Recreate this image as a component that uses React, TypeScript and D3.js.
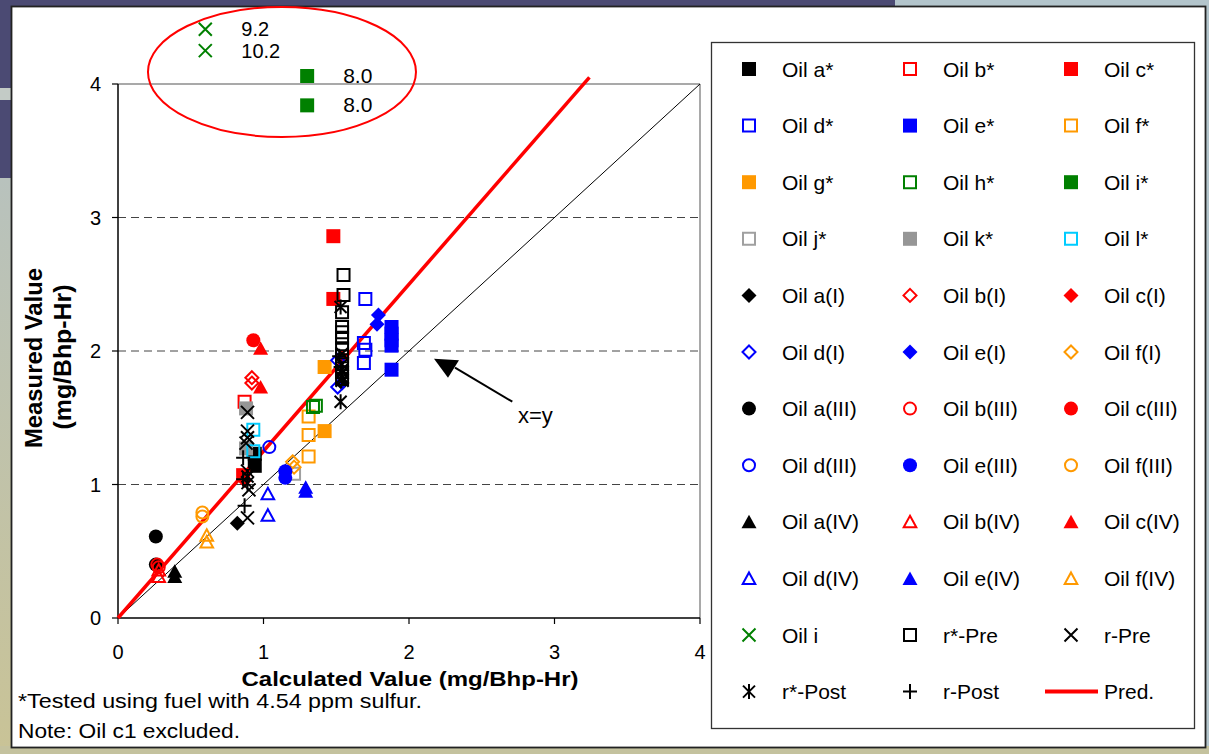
import React from 'react';
import * as d3 from 'd3';

type Pt = [number, number];

// ---------- data ----------
const X_TICKS = [0, 1, 2, 3, 4];
const Y_TICKS = [0, 1, 2, 3, 4];
const GRID_Y = [1, 2, 3];

const OIL_A_STAR: Pt[] = [[0.94, 1.23], [0.94, 1.14]];
const OIL_B_STAR: Pt[] = [[0.87, 1.62]];
const OIL_C_STAR: Pt[] = [[1.48, 2.86], [1.48, 2.39], [0.86, 1.07]];
const OIL_D_STAR: Pt[] = [[1.70, 2.39], [1.69, 2.06], [1.70, 2.01], [1.69, 1.91]];
const OIL_E_STAR: Pt[] = [[1.88, 2.18], [1.88, 2.13], [1.88, 2.08], [1.88, 2.04], [1.88, 1.86]];
const OIL_F_STAR: Pt[] = [[1.31, 1.21], [1.31, 1.37], [1.31, 1.51]];
const OIL_G_STAR: Pt[] = [[1.42, 1.40], [1.42, 1.88]];
const OIL_H_STAR: Pt[] = [[1.34, 1.58], [1.36, 1.59]];
const OIL_I_STAR: Pt[] = [];
const OIL_J_STAR: Pt[] = [[1.21, 1.08]];
const OIL_K_STAR: Pt[] = [[0.88, 1.57], [0.88, 1.27]];
const OIL_L_STAR: Pt[] = [[0.93, 1.41], [0.93, 1.25]];
const OIL_A_I: Pt[] = [[0.82, 0.71], [1.54, 1.76]];
const OIL_B_I: Pt[] = [[0.92, 1.80], [0.92, 1.76]];
const OIL_C_I: Pt[] = [[0.87, 1.03], [1.54, 1.95]];
const OIL_D_I: Pt[] = [[1.51, 1.93], [1.51, 1.73]];
const OIL_E_I: Pt[] = [[1.79, 2.27], [1.78, 2.20]];
const OIL_F_I: Pt[] = [[1.20, 1.17], [1.21, 1.13]];
const OIL_A_III: Pt[] = [[0.26, 0.61], [0.26, 0.40]];
const OIL_B_III: Pt[] = [[0.27, 0.40], [0.28, 0.38]];
const OIL_C_III: Pt[] = [[0.93, 2.08]];
const OIL_D_III: Pt[] = [[1.04, 1.28]];
const OIL_E_III: Pt[] = [[1.15, 1.10], [1.15, 1.05]];
const OIL_F_III: Pt[] = [[0.58, 0.79], [0.58, 0.76]];
const OIL_A_IV: Pt[] = [[0.39, 0.35], [0.39, 0.31]];
const OIL_B_IV: Pt[] = [[0.28, 0.36], [0.28, 0.31]];
const OIL_C_IV: Pt[] = [[0.98, 2.02], [0.98, 1.73]];
const OIL_D_IV: Pt[] = [[1.03, 0.93], [1.03, 0.77]];
const OIL_E_IV: Pt[] = [[1.29, 0.98], [1.29, 0.95]];
const OIL_F_IV: Pt[] = [[0.61, 0.62], [0.61, 0.57]];
const OIL_I: Pt[] = [];
const R_STAR_PRE: Pt[] = [[1.55, 2.57], [1.55, 2.42], [1.54, 2.29], [1.54, 2.18], [1.54, 2.14], [1.54, 2.10], [1.54, 2.02], [1.54, 1.96], [1.54, 1.90], [1.54, 1.84], [1.54, 1.79]];
const R_PRE: Pt[] = [[0.89, 1.54], [0.89, 1.40], [0.89, 1.35], [0.88, 1.31], [0.89, 1.10], [0.90, 0.96], [0.89, 0.75], [1.54, 1.98], [1.54, 1.90], [1.54, 1.84], [1.54, 1.78]];
const R_STAR_POST: Pt[] = [[0.89, 1.06], [0.89, 1.01], [1.53, 2.33], [1.54, 1.86], [1.54, 1.80], [1.53, 1.62]];
const R_POST: Pt[] = [[0.86, 1.20], [0.86, 1.04], [0.87, 0.84], [1.52, 1.96], [1.53, 1.88]];

// off-scale values shown inside the ellipse: [calculated, shown at, label]
const OFFSCALE_OIL_I: [number, number, string][] = [[0.60, 4.41, '9.2'], [0.60, 4.25, '10.2']];
const OFFSCALE_OIL_I_STAR: [number, number, string][] = [[1.30, 4.06, '8.0'], [1.30, 3.84, '8.0']];

const PRED_SLOPE = 1.25;
const PRED_X_END = 3.24;

const LEGEND_NAMES = [
  'Oil a*', 'Oil b*', 'Oil c*',
  'Oil d*', 'Oil e*', 'Oil f*',
  'Oil g*', 'Oil h*', 'Oil i*',
  'Oil j*', 'Oil k*', 'Oil l*',
  'Oil a(I)', 'Oil b(I)', 'Oil c(I)',
  'Oil d(I)', 'Oil e(I)', 'Oil f(I)',
  'Oil a(III)', 'Oil b(III)', 'Oil c(III)',
  'Oil d(III)', 'Oil e(III)', 'Oil f(III)',
  'Oil a(IV)', 'Oil b(IV)', 'Oil c(IV)',
  'Oil d(IV)', 'Oil e(IV)', 'Oil f(IV)',
  'Oil i', 'r*-Pre', 'r-Pre',
  'r*-Post', 'r-Post', 'Pred.',
];

const SERIES_POINTS: Pt[][] = [
  OIL_A_STAR, OIL_B_STAR, OIL_C_STAR, OIL_D_STAR, OIL_E_STAR, OIL_F_STAR,
  OIL_G_STAR, OIL_H_STAR, OIL_I_STAR, OIL_J_STAR, OIL_K_STAR, OIL_L_STAR,
  OIL_A_I, OIL_B_I, OIL_C_I, OIL_D_I, OIL_E_I, OIL_F_I,
  OIL_A_III, OIL_B_III, OIL_C_III, OIL_D_III, OIL_E_III, OIL_F_III,
  OIL_A_IV, OIL_B_IV, OIL_C_IV, OIL_D_IV, OIL_E_IV, OIL_F_IV,
  OIL_I, R_STAR_PRE, R_PRE, R_STAR_POST, R_POST,
];

// ---------- styles ----------
const BLACK = '#000000', RED = '#ff0000', BLUE = '#0000ff', ORANGE = '#ff9900',
  GREEN = '#008000', GREY = '#969696', LGREY = '#a0a0a0', CYAN = '#00ccff';

type Shape = 'square' | 'diamond' | 'circle' | 'triangle' | 'x' | 'asterisk' | 'plus' | 'line';
const STYLES: { shape: Shape; color: string; fill: boolean }[] = [
  { shape: 'square', color: BLACK, fill: true },
  { shape: 'square', color: RED, fill: false },
  { shape: 'square', color: RED, fill: true },
  { shape: 'square', color: BLUE, fill: false },
  { shape: 'square', color: BLUE, fill: true },
  { shape: 'square', color: ORANGE, fill: false },
  { shape: 'square', color: ORANGE, fill: true },
  { shape: 'square', color: GREEN, fill: false },
  { shape: 'square', color: GREEN, fill: true },
  { shape: 'square', color: LGREY, fill: false },
  { shape: 'square', color: GREY, fill: true },
  { shape: 'square', color: CYAN, fill: false },
  { shape: 'diamond', color: BLACK, fill: true },
  { shape: 'diamond', color: RED, fill: false },
  { shape: 'diamond', color: RED, fill: true },
  { shape: 'diamond', color: BLUE, fill: false },
  { shape: 'diamond', color: BLUE, fill: true },
  { shape: 'diamond', color: ORANGE, fill: false },
  { shape: 'circle', color: BLACK, fill: true },
  { shape: 'circle', color: RED, fill: false },
  { shape: 'circle', color: RED, fill: true },
  { shape: 'circle', color: BLUE, fill: false },
  { shape: 'circle', color: BLUE, fill: true },
  { shape: 'circle', color: ORANGE, fill: false },
  { shape: 'triangle', color: BLACK, fill: true },
  { shape: 'triangle', color: RED, fill: false },
  { shape: 'triangle', color: RED, fill: true },
  { shape: 'triangle', color: BLUE, fill: false },
  { shape: 'triangle', color: BLUE, fill: true },
  { shape: 'triangle', color: ORANGE, fill: false },
  { shape: 'x', color: GREEN, fill: false },
  { shape: 'square', color: BLACK, fill: false },
  { shape: 'x', color: BLACK, fill: false },
  { shape: 'asterisk', color: BLACK, fill: false },
  { shape: 'plus', color: BLACK, fill: false },
  { shape: 'line', color: RED, fill: false },
];

const FONT = '"Liberation Sans", Arial, sans-serif';

function markerPath(shape: Shape, fill: boolean): string {
  switch (shape) {
    case 'square':
      return fill ? 'M-7,-7h14v14h-14Z' : 'M-6,-6h12v12h-12Z';
    case 'diamond':
      return fill ? 'M0,-7.5L7.5,0L0,7.5L-7.5,0Z' : 'M0,-6.5L6.5,0L0,6.5L-6.5,0Z';
    case 'circle': {
      const r = fill ? 7 : 6;
      const p = d3.path();
      p.arc(0, 0, r, 0, Math.PI * 2);
      p.closePath();
      return p.toString();
    }
    case 'triangle':
      return fill ? 'M0,-7L7.5,6.5L-7.5,6.5Z' : 'M0,-6L6.3,5.5L-6.3,5.5Z';
    case 'x':
      return 'M-6.5,-6.5L6.5,6.5M6.5,-6.5L-6.5,6.5';
    case 'asterisk':
      return 'M-6,-6L6,6M6,-6L-6,6M0,-7.5L0,7.5';
    case 'plus':
      return 'M-7,0L7,0M0,-7.5L0,7.5';
    default:
      return '';
  }
}

function Marker({ cx, cy, idx }: { cx: number; cy: number; idx: number }) {
  const st = STYLES[idx];
  const d = markerPath(st.shape, st.fill);
  const filled = st.fill && st.shape !== 'x';
  return (
    <path
      d={d}
      transform={`translate(${cx},${cy})`}
      fill={filled ? st.color : 'none'}
      stroke={filled ? 'none' : st.color}
      strokeWidth={2}
    />
  );
}

export default function App() {
  const W = 1209, H = 754;
  const x = d3.scaleLinear().domain([0, 4]).range([118, 700]);
  const y = d3.scaleLinear().domain([0, 4]).range([618, 84]);
  const line = d3.line<Pt>().x(d => x(d[0])).y(d => y(d[1]));

  const predLine = line([[0, 0], [PRED_X_END, PRED_SLOPE * PRED_X_END]]) || '';
  const xyLine = line([[0, 0], [4, 4]]) || '';

  // legend layout
  const legRow0 = 69, legRowStep = 56.6;
  const legMarkerX = [749, 910, 1071];
  const legTextX = [782, 943, 1104];

  // arrow annotation in data space
  const arrowTip: Pt = [2.268, 1.80];
  const arrowFrom: Pt = [2.71, 1.62];

  return (
    <svg width={W} height={H} style={{ position: 'absolute', left: 0, top: 0, display: 'block' }}
      fontFamily={FONT}>
      <defs>
        <linearGradient id="bgLow" x1="0" y1="0" x2="0" y2="1">
          <stop offset="0" stopColor="#b8c2bd" />
          <stop offset="1" stopColor="#c9c396" />
        </linearGradient>
      </defs>
      {/* slide background */}
      <rect x={0} y={0} width={W} height={H} fill="#b3c5cc" />
      <rect x={0} y={0} width={895} height={8} fill="#4b4a73" />
      <rect x={0} y={0} width={12} height={88} fill="#4b4a73" />
      <rect x={0} y={88} width={12} height={12} fill="#c3cbc6" />
      <rect x={0} y={100} width={12} height={78} fill="#4b4a73" />
      <rect x={0} y={178} width={12} height={576} fill="url(#bgLow)" />
      <rect x={0} y={746} width={W} height={8} fill="#c4c29e" />

      {/* chart area */}
      <rect x={11.5} y={6.5} width={1194} height={741} fill="#ffffff" stroke="#222" strokeWidth={1.8} />

      {/* grid lines */}
      {GRID_Y.map(v => (
        <line key={v} x1={x(0)} x2={x(4)} y1={y(v)} y2={y(v)} stroke="#444" strokeWidth={1} strokeDasharray="8,5" />
      ))}
      {/* plot frame top / right */}
      <line x1={x(0)} x2={x(4)} y1={y(4)} y2={y(4)} stroke="#8c8c8c" strokeWidth={1.5} />
      <line x1={x(4)} x2={x(4)} y1={y(4)} y2={y(0)} stroke="#8c8c8c" strokeWidth={1.5} />

      {/* axes */}
      <line x1={x(0)} x2={x(0)} y1={y(4)} y2={y(0)} stroke="#000" strokeWidth={1.5} />
      <line x1={x(0)} x2={x(4)} y1={y(0)} y2={y(0)} stroke="#000" strokeWidth={1.5} />
      {Y_TICKS.map(v => (
        <g key={'yt' + v}>
          <line x1={x(0) - 6} x2={x(0)} y1={y(v)} y2={y(v)} stroke="#000" strokeWidth={1.2} />
          <text x={101} y={y(v) + 7} fontSize={20} textAnchor="end" fill="#000">{v}</text>
        </g>
      ))}
      {X_TICKS.map(v => (
        <g key={'xt' + v}>
          <line x1={x(v)} x2={x(v)} y1={y(0)} y2={y(0) + 6} stroke="#000" strokeWidth={1.2} />
          <text x={x(v)} y={659} fontSize={20} textAnchor="middle" fill="#000">{v}</text>
        </g>
      ))}

      {/* reference lines */}
      <path d={xyLine} stroke="#000" strokeWidth={1} fill="none" />
      <path d={predLine} stroke={RED} strokeWidth={3.5} fill="none" />

      {/* points */}
      {SERIES_POINTS.map((pts, si) =>
        pts.map((p, pi) => <Marker key={si + '-' + pi} cx={x(p[0])} cy={y(p[1])} idx={si} />)
      )}

      {/* off-scale annotations */}
      <ellipse cx={x(1.127)} cy={y(4.09)} rx={134} ry={65} fill="none" stroke={RED} strokeWidth={2} />
      {OFFSCALE_OIL_I.map((o, i) => (
        <g key={'oi' + i}>
          <Marker cx={x(o[0])} cy={y(o[1])} idx={30} />
          <text x={x(o[0]) + 36} y={y(o[1]) + 7} fontSize={20} fill="#000">{o[2]}</text>
        </g>
      ))}
      {OFFSCALE_OIL_I_STAR.map((o, i) => (
        <g key={'ois' + i}>
          <Marker cx={x(o[0])} cy={y(o[1])} idx={8} />
          <text x={x(o[0]) + 36} y={y(o[1]) + 7} fontSize={21} fill="#000">{o[2]}</text>
        </g>
      ))}

      {/* x=y arrow */}
      <line x1={x(arrowFrom[0])} y1={y(arrowFrom[1])} x2={x(arrowTip[0]) + 7} y2={y(arrowTip[1]) - 10}
        stroke="#000" strokeWidth={2} />
      <path d={`M${x(arrowTip[0])},${y(arrowTip[1])}L${x(arrowTip[0]) - 14},${y(arrowTip[1]) - 19}L${x(arrowTip[0]) + 11},${y(arrowTip[1]) - 17.5}Z`}
        fill="#000" />
      <text x={518} y={423} fontSize={22} fill="#000">x=y</text>

      {/* axis titles */}
      <text x={410} y={686} fontSize={21} fontWeight="bold" textAnchor="middle" textLength={337}
        lengthAdjust="spacingAndGlyphs" fill="#000">Calculated Value (mg/Bhp-Hr)</text>
      <text transform="translate(42,358) rotate(-90)" fontSize={23} fontWeight="bold" textAnchor="middle"
        textLength={180} lengthAdjust="spacingAndGlyphs" fill="#000">Measured Value</text>
      <text transform="translate(71,357) rotate(-90)" fontSize={23} fontWeight="bold" textAnchor="middle"
        textLength={145} lengthAdjust="spacingAndGlyphs" fill="#000">(mg/Bhp-Hr)</text>

      {/* footnotes */}
      <text x={18} y={708} fontSize={21} textLength={404} lengthAdjust="spacingAndGlyphs" fill="#000">
        *Tested using fuel with 4.54 ppm sulfur.
      </text>
      <text x={18} y={738} fontSize={21} textLength={222} lengthAdjust="spacingAndGlyphs" fill="#000">
        Note: Oil c1 excluded.
      </text>

      {/* legend */}
      <rect x={711.5} y={42.5} width={483} height={686} fill="#fff" stroke="#333" strokeWidth={1.3} />
      {LEGEND_NAMES.map((name, i) => {
        const row = Math.floor(i / 3), col = i % 3;
        const cy = legRow0 + row * legRowStep;
        const st = STYLES[i];
        return (
          <g key={'lg' + i}>
            {st.shape === 'line' ? (
              <line x1={1045} x2={1098} y1={cy} y2={cy} stroke={st.color} strokeWidth={4} />
            ) : (
              <Marker cx={legMarkerX[col]} cy={cy} idx={i} />
            )}
            <text x={legTextX[col]} y={cy + 7.5} fontSize={21} fill="#000">{name}</text>
          </g>
        );
      })}
    </svg>
  );
}
